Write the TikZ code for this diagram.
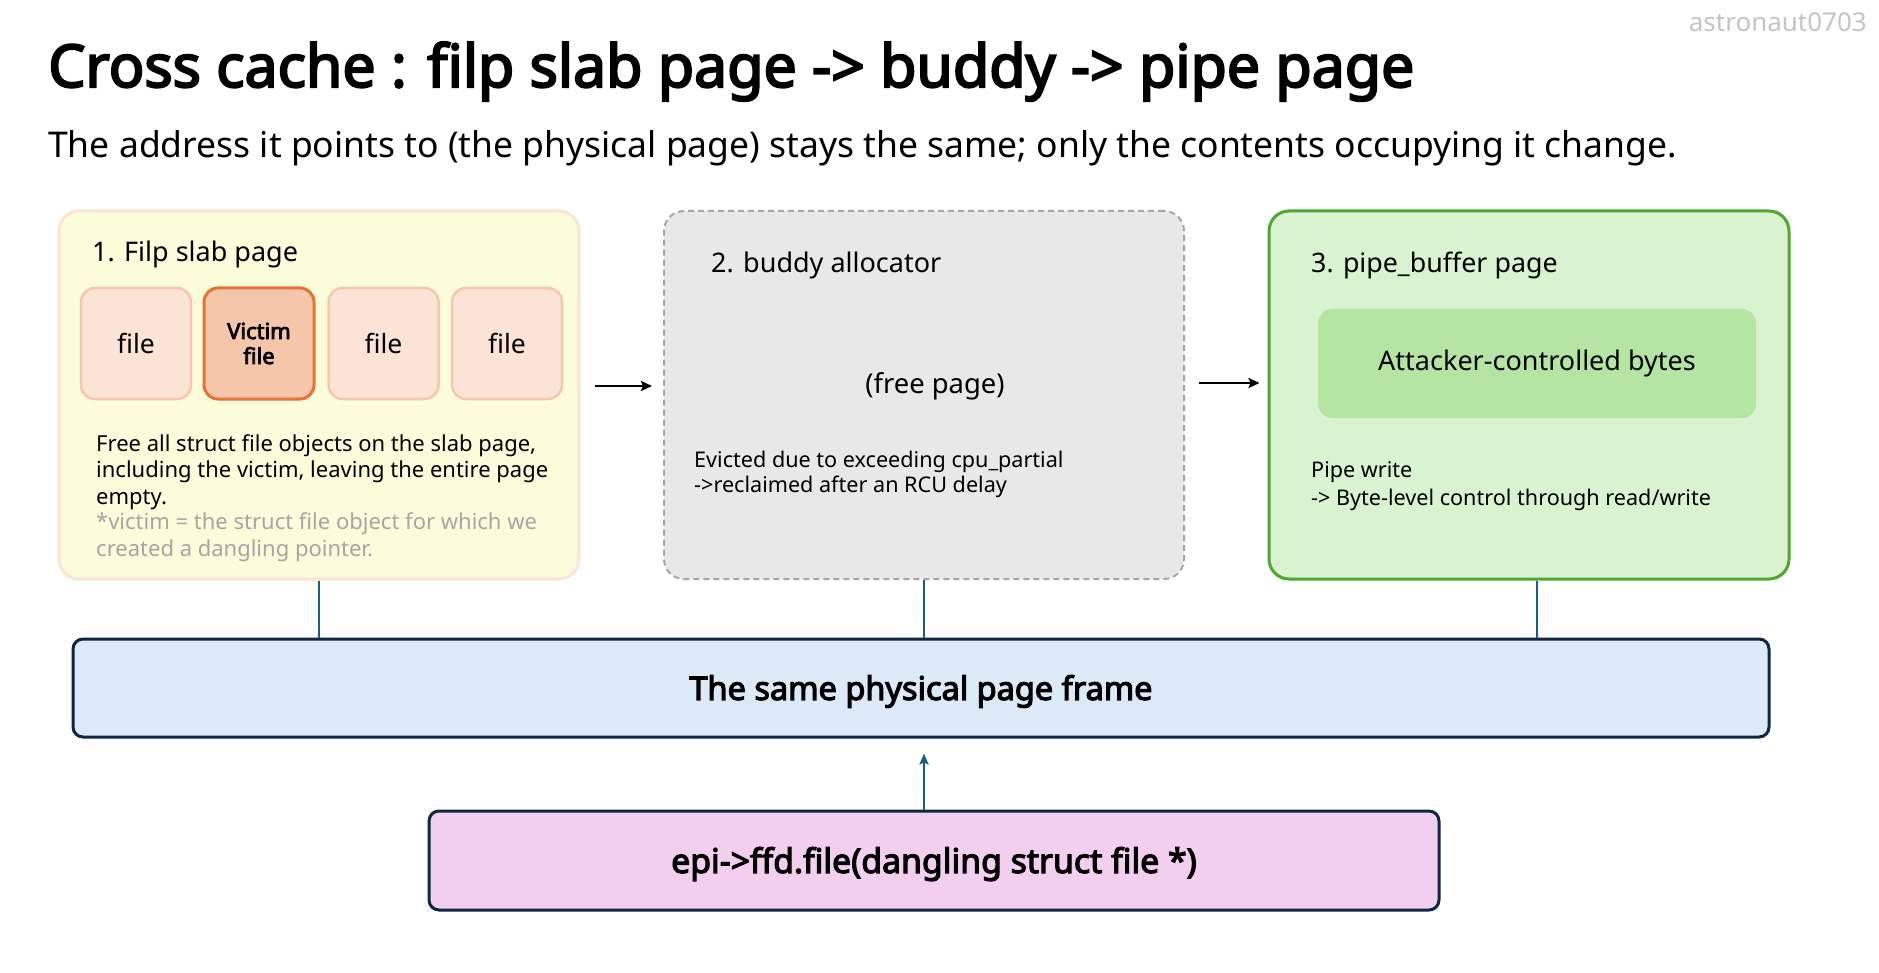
\documentclass[tikz,border=0pt]{standalone}
\usepackage{fontspec}
\setmainfont{Noto Sans}[BoldFont={Noto Sans}, BoldFeatures={FakeBold=3.5}]
\usetikzlibrary{arrows.meta}
\definecolor{yfill}{HTML}{FAFCDA}
\definecolor{ydraw}{HTML}{FCE4D6}
\definecolor{ffill}{HTML}{FBE3D6}
\definecolor{fdraw}{HTML}{F7C7AC}
\definecolor{vfill}{HTML}{F5C6AA}
\definecolor{vdraw}{HTML}{E97132}
\definecolor{gfill}{HTML}{E8E8E8}
\definecolor{gdraw}{HTML}{A6A6A6}
\definecolor{pfill}{HTML}{D9F2D0}
\definecolor{pdraw}{HTML}{4EA72E}
\definecolor{pinner}{HTML}{B4E5A2}
\definecolor{bfill}{HTML}{DCEAF7}
\definecolor{navy}{HTML}{0E2841}
\definecolor{mfill}{HTML}{F2CEEF}
\definecolor{link}{HTML}{156082}
\definecolor{note}{HTML}{A6A6A6}
\tikzset{
  bigbox/.style={rectangle, rounded corners=20pt, minimum width=520pt, minimum height=368pt, line width=3pt},
  filebox/.style={rectangle, rounded corners=14pt, minimum width=110pt, minimum height=111pt, fill=ffill, draw=fdraw, line width=2.5pt, font=\fontsize{26.5}{30}\selectfont},
  framebox/.style={rectangle, rounded corners=10pt, line width=3pt, draw=navy, text depth=1pt, font=\bfseries\fontsize{32.5}{38}\selectfont},
  txt/.style={anchor=base west, inner sep=0pt},
  flow/.style={line width=2.5pt, -{Stealth[length=11pt,width=10pt,inset=2pt]}},
  tie/.style={line width=2.5pt, draw=link}
}
\begin{document}
\begin{tikzpicture}[x=1pt,y=-1pt]
\useasboundingbox (0,0) rectangle (1879,973);
\fill[white] (0,0) rectangle (1879,973);
% header
\node[anchor=base east, inner sep=0pt, text=note!65, font=\fontsize{26}{30}\selectfont] (wm) at (1867,32) {astronaut0703};
\node[txt, font=\bfseries\fontsize{59}{66}\selectfont] (title) at (48,87) {Cross cache : filp slab page -> buddy -> pipe page};
\node[txt, font=\fontsize{35.5}{40}\selectfont] (sub) at (48,158) {The address it points to (the physical page) stays the same; only the contents occupying it change.};
% box 1
\node[bigbox, fill=yfill, draw=ydraw] (b1) at (319,395) {};
\node[txt, font=\fontsize{27}{30}\selectfont] (t1) at (92,262) {1. Filp slab page};
\node[filebox] (f1) at (136,343.5) {file};
\node[filebox, fill=vfill, draw=vdraw, line width=3pt, align=center, font=\bfseries\fontsize{22}{25}\selectfont] (fv) at (259,343.5) {Victim\\file};
\node[filebox] (f3) at (383.5,343.5) {file};
\node[filebox] (f4) at (507,343.5) {file};
\node[txt, align=left, font=\fontsize{22}{26.3}\selectfont] (d1) at (96,504) {Free all struct file objects on the slab page,\\including the victim, leaving the entire page\\empty.};
\node[txt, align=left, text=note, font=\fontsize{22}{26.3}\selectfont] (n1) at (96,556) {*victim = the struct file object for which we\\created a dangling pointer.};
% box 2
\node[bigbox, fill=gfill, draw=gdraw, line width=2pt, dash pattern=on 6pt off 4pt] (b2) at (924,395) {};
\node[txt, font=\fontsize{27}{30}\selectfont] (t2) at (711,272.5) {2. buddy allocator};
\node[font=\fontsize{27.4}{30}\selectfont] (fp) at (935,386) {(free page)};
\node[txt, align=left, font=\fontsize{21.6}{25}\selectfont] (d2) at (694,492) {Evicted due to exceeding cpu\_partial\\->reclaimed after an RCU delay};
% box 3
\node[bigbox, fill=pfill, draw=pdraw] (b3) at (1529,395) {};
\node[txt, font=\fontsize{26.8}{30}\selectfont] (t3) at (1311,272.5) {3. pipe\_buffer page};
\node[rectangle, rounded corners=14pt, fill=pinner, minimum width=438pt, minimum height=109pt, font=\fontsize{27}{30}\selectfont] (ac) at (1537,363.5) {Attacker-controlled bytes};
\node[txt, align=left, font=\fontsize{21.6}{28}\selectfont] (d3) at (1311,505) {Pipe write\\-> Byte-level control through read/write};
% bottom
\node[framebox, fill=bfill, minimum width=1696pt, minimum height=98pt] (pf) at (921,688) {The same physical page frame};
\node[framebox, fill=mfill, minimum width=1010pt, minimum height=99pt, font=\bfseries\fontsize{33.8}{40}\selectfont] (epi) at (934,860.5) {epi->ffd.file(dangling struct file *)};
% connectors
\draw[flow, shorten <=14pt, shorten >=11pt] ([yshift=9pt]b1.east) -- ([yshift=9pt]b2.west);
\draw[flow, shorten <=14pt, shorten >=8pt] ([yshift=12pt]b2.east) -- ([yshift=12pt]b3.west);
\draw[tie] (b1.south) -- (b1.south |- pf.north);
\draw[tie] (b2.south) -- (b2.south |- pf.north);
\draw[tie] (b3.south -| ac.south) -- (ac.south |- pf.north);
\draw[tie, -{Stealth[length=11pt,width=9pt,inset=2pt]}, shorten >=15pt] (epi.north -| b2.south) -- (b2.south |- pf.south);
\end{tikzpicture}
\end{document}
